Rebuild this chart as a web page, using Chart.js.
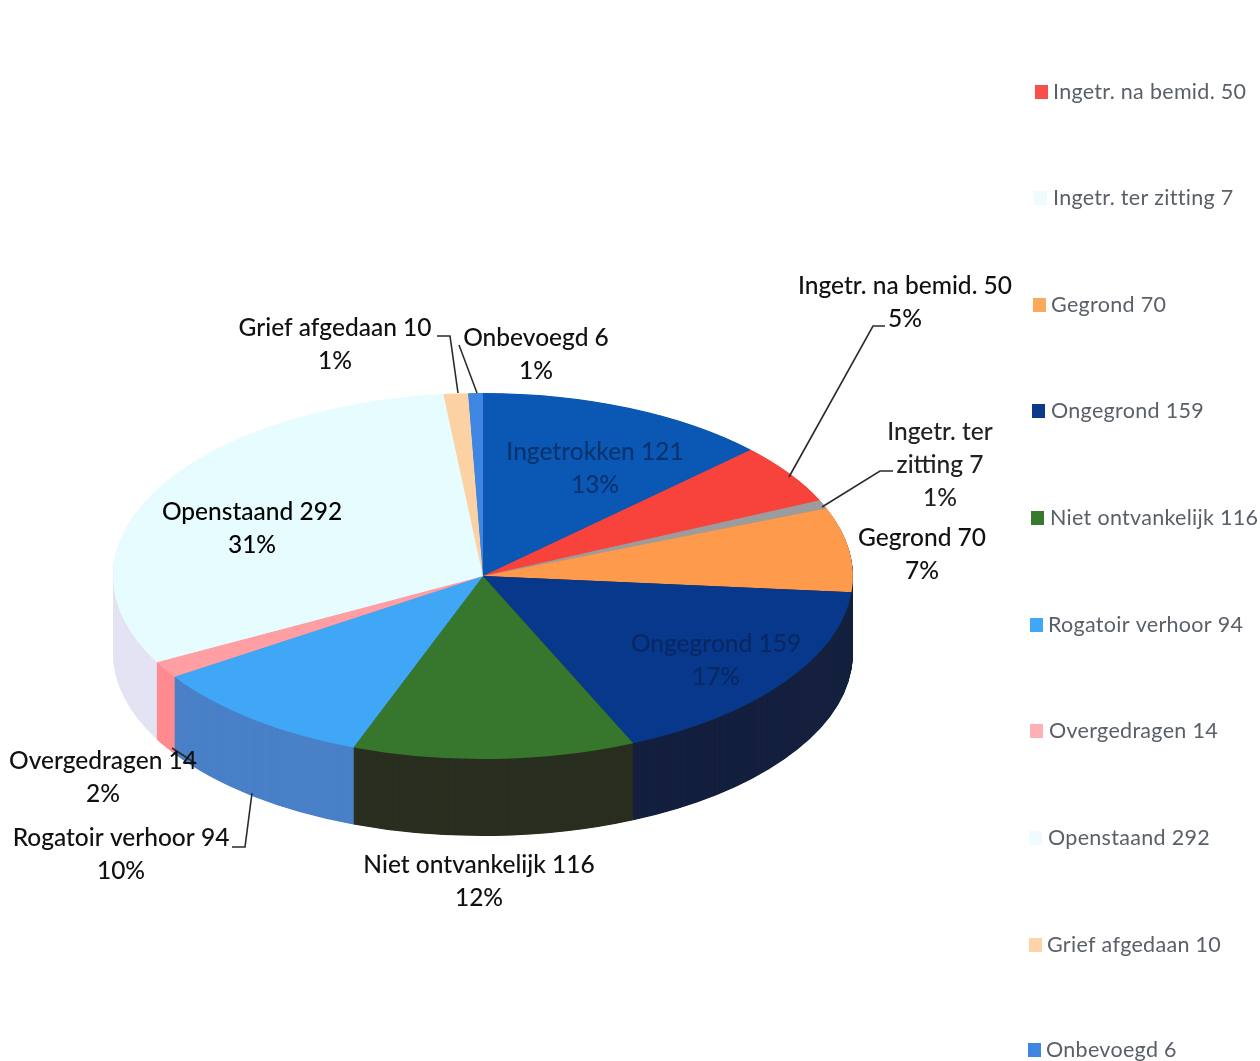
<!DOCTYPE html>
<html>
<head>
<meta charset="utf-8">
<title>Pie</title>
<script src="https://cdn.jsdelivr.net/npm/chart.js@4"></script>
<style>
    html, body { margin: 0; padding: 0; background: #fff; }
    canvas { display: block; }
</style>
</head>
<body>
<canvas id="pieChart" width="1260" height="1061"></canvas>
<script>
const categories = ['Ingetrokken', 'Ingetr. na bemid.', 'Ingetr. ter zitting', 'Gegrond', 'Ongegrond',
    'Niet ontvankelijk', 'Rogatoir verhoor', 'Overgedragen', 'Openstaand', 'Grief afgedaan', 'Onbevoegd'];
const values = [121, 50, 7, 70, 159, 116, 94, 14, 292, 10, 6];
const percents = [13, 5, 1, 7, 17, 12, 10, 2, 31, 1, 1];

const topColors = ['#0b57b4', '#f8433d', '#9c9c9c', '#fd9a4c', '#07388c', '#36772d', '#40a6f6', '#ff9fa3', '#e6fcff', '#fcd2a4', '#3f86e2'];
const sideColors = ['#0b57b4', '#f8433d', '#9c9c9c', '#15203f', '#15203f', '#2a2f20', '#4a80c8', '#ff8b90', '#e3e3f4', '#fcd2a4', '#3f86e2'];
const legendColors = [null, '#f94f4a', '#eefbff', '#fda85c', '#0b3a8a', '#37792f', '#40a6f6', '#ffb0b5', '#effbff', '#fdd3a8', '#3f86e2'];

// label centre x, first line centre y
const labelSpots = [[595, 452], [905, 286], [940, 432], [922, 538], [716, 644], [479, 865], [121, 838], [103, 761], [252, 512], [335, 328], [536, 338]];
const labelColors = ['#08336f', '#111', '#222', '#111', '#082863', '#111', '#111', '#111', '#000', '#111', '#111'];
const labelBreaks = { 2: ['Ingetr. ter', 'zitting 7'] };

const leaderLines = [
    [[789, 477], [873, 326], [885, 326]],
    [[822, 507], [880, 471], [893, 471]],
    [[458, 393], [450, 336], [437, 336]],
    [[477, 393], [459, 345]],
    [[252, 793], [245, 847], [232, 847]],
    [[172, 748], [195, 763]]
];

// swatch x, text x, centre y (the scan is slightly skewed)
const legendSpots = [null, [1035, 1053, 92], [1034, 1053, 198], [1033, 1051, 305], [1032, 1051, 411], [1031, 1050, 518],
    [1030, 1048, 625], [1030, 1049, 731], [1029, 1048, 838], [1029, 1047, 945], [1028, 1046, 1050]];

const squash = 183 / 370;
const depth = 77;

function squashAround(ctx, arc, offsetY) {
    ctx.translate(arc.x, arc.y + offsetY);
    ctx.scale(1, squash);
    ctx.translate(-arc.x, -arc.y);
}

// Draws the rim by stamping the library's own arcs downwards, then squashes the top face
const tiltedPie = {
    id: 'tiltedPie',
    beforeDatasetDraw(chart) {
        const ctx = chart.ctx;
        const arcs = chart.getDatasetMeta(0).data;
        for (let d = depth; d > 0; d -= 0.5) {
            arcs.forEach((arc, i) => {
                const top = arc.options.backgroundColor;
                arc.options.backgroundColor = sideColors[i];
                ctx.save();
                squashAround(ctx, arc, d);
                arc.draw(ctx);
                ctx.restore();
                arc.options.backgroundColor = top;
            });
        }
        ctx.save();
        squashAround(ctx, arcs[0], 0);
    },
    afterDatasetDraw(chart) {
        chart.ctx.restore();
    }
};

const sliceLabels = {
    id: 'sliceLabels',
    afterDraw(chart) {
        const ctx = chart.ctx;
        ctx.save();

        // Leader lines
        ctx.strokeStyle = '#2b2b2b';
        ctx.lineWidth = 1.6;
        leaderLines.forEach(line => {
            ctx.beginPath();
            line.forEach(([x, y], i) => i ? ctx.lineTo(x, y) : ctx.moveTo(x, y));
            ctx.stroke();
        });

        // Data labels
        ctx.font = '500 24.5px Lato';
        ctx.textAlign = 'center';
        ctx.textBaseline = 'middle';
        categories.forEach((name, i) => {
            const lines = (labelBreaks[i] || [`${name} ${values[i]}`]).concat(`${percents[i]}%`);
            const [x, y] = labelSpots[i];
            ctx.fillStyle = labelColors[i];
            lines.forEach((text, n) => ctx.fillText(text, x, y + n * 33));
        });

        // Legend, Ingetrokken has fallen off the top of the scan
        ctx.font = '21.5px Lato';
        ctx.textAlign = 'left';
        ctx.letterSpacing = '0.3px';
        categories.forEach((name, i) => {
            if (!legendSpots[i]) return;
            const [boxX, textX, y] = legendSpots[i];
            ctx.fillStyle = legendColors[i];
            ctx.fillRect(boxX, y - 7, 13, 14);
            ctx.fillStyle = '#5a6068';
            ctx.fillText(`${name} ${values[i]}`, textX, y);
        });
        ctx.restore();
    }
};

new Chart(document.getElementById('pieChart'), {
    type: 'pie',
    data: {
        labels: categories,
        datasets: [{
            data: values,
            backgroundColor: topColors,
            borderWidth: 0
        }]
    },
    options: {
        responsive: false,
        animation: false,
        layout: {
            padding: { left: 113, right: 407, top: 206, bottom: 115 }
        },
        plugins: {
            legend: { display: false },
            tooltip: { enabled: false }
        }
    },
    plugins: [tiltedPie, sliceLabels]
});
</script>
</body>
</html>
